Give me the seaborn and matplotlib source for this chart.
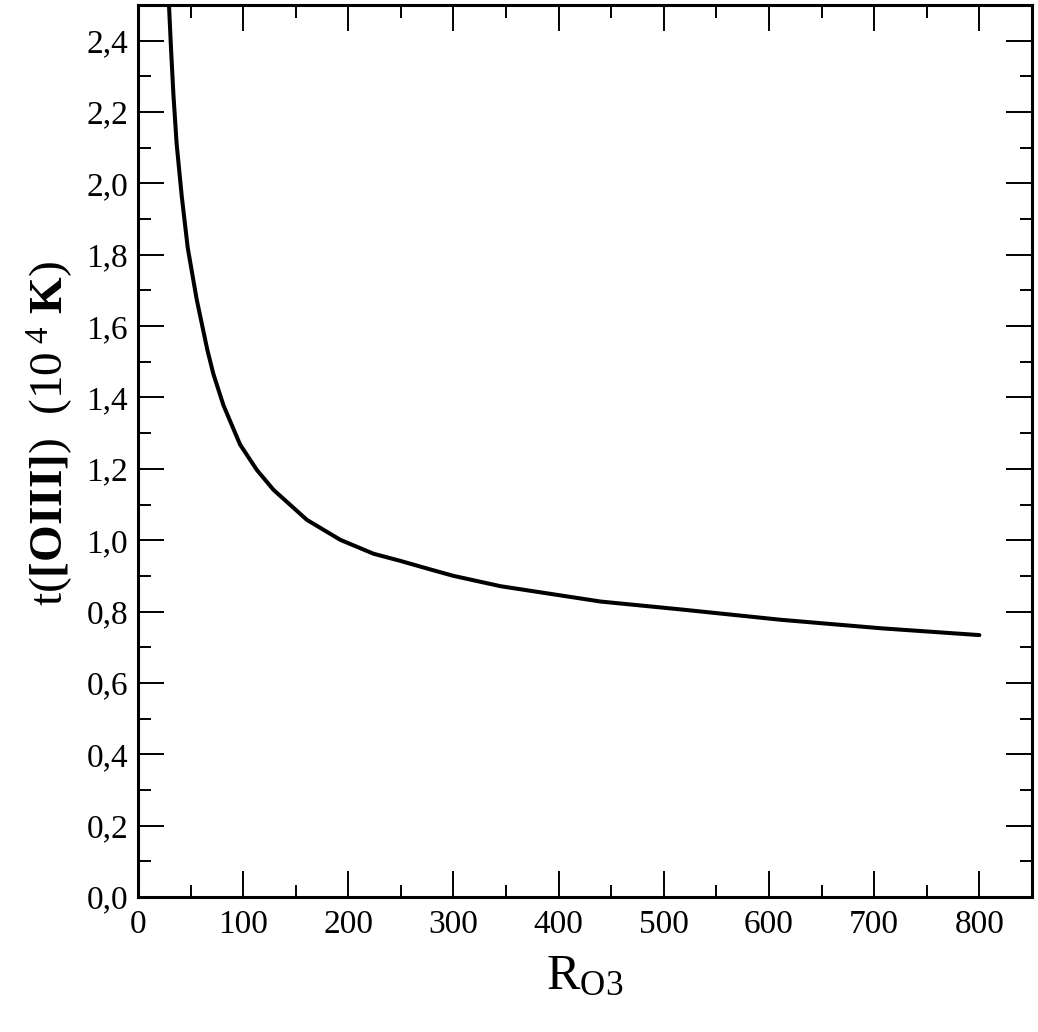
## t([OIII]) vs R_O3 curve
import numpy as np
import pandas as pd
import seaborn as sns
import matplotlib
matplotlib.use("Agg")
import matplotlib.pyplot as plt
import matplotlib.ticker as mtick

# values
r_o3 = [29.5, 31.4, 33.7, 36.8, 41.6, 47.3, 55.9, 66.0, 71.7, 81.3, 97.1,
        113.0, 128.9, 160.6, 192.4, 224.0, 249.5, 278.0, 300.0, 344.8, 440.0,
        516.0, 611.0, 707.0, 800.0]
t_oiii = [2.50, 2.380, 2.250, 2.110, 1.965, 1.820, 1.674, 1.533, 1.466, 1.378,
          1.268, 1.197, 1.141, 1.057, 1.001, 0.962, 0.942, 0.918, 0.900, 0.871,
          0.828, 0.806, 0.777, 0.753, 0.734]

df = pd.DataFrame({"R": r_o3, "t": t_oiii})

sns.set_style("ticks")
plt.rcParams["font.family"] = ["Liberation Serif", "DejaVu Serif"]
plt.rcParams["text.color"] = "black"
plt.rcParams["axes.labelcolor"] = "black"
plt.rcParams["mathtext.fontset"] = "custom"
plt.rcParams["mathtext.rm"] = "Liberation Serif"
plt.rcParams["mathtext.it"] = "Liberation Serif:italic"
plt.rcParams["mathtext.bf"] = "Liberation Serif:bold"

fig = plt.figure(figsize=(10.38, 10.32), dpi=100)
ax = fig.add_axes([0.1329, 0.1308, 0.8613, 0.8644])

sns.lineplot(data=df, x="R", y="t", ax=ax, color="black", linewidth=2.9,
             sort=False, estimator=None)

ax.set_xlim(0, 850)
ax.set_ylim(0, 2.5)

ax.xaxis.set_major_locator(mtick.MultipleLocator(100))
ax.xaxis.set_minor_locator(mtick.MultipleLocator(50))
ax.yaxis.set_major_locator(mtick.MultipleLocator(0.2))
ax.yaxis.set_minor_locator(mtick.MultipleLocator(0.1))
ax.yaxis.set_major_formatter(mtick.FuncFormatter(lambda v, p: f"{v:.1f}".replace(".", ",")))

ax.tick_params(which="both", direction="in", top=True, right=True, width=1.4,
               labelsize=24, colors="black")
ax.tick_params(which="major", length=18.5)
ax.tick_params(which="minor", length=9)
ax.tick_params(axis="x", which="major", pad=9)
ax.tick_params(axis="y", which="major", pad=7)

for sp in ax.spines.values():
    sp.set_linewidth(2.2)
    sp.set_color("black")

ax.set_xlabel(r"$\mathrm{R}_{\mathrm{O3}}$", fontsize=36, labelpad=10, color="black")
ax.set_ylabel(r"t($\mathbf{[OIII]}$)  (10$^{\ 4}$ $\mathbf{K}$)", fontsize=34,
              color="black")
ax.yaxis.set_label_coords(-0.07, 0.52)

fig.savefig("out.png", dpi=100)
